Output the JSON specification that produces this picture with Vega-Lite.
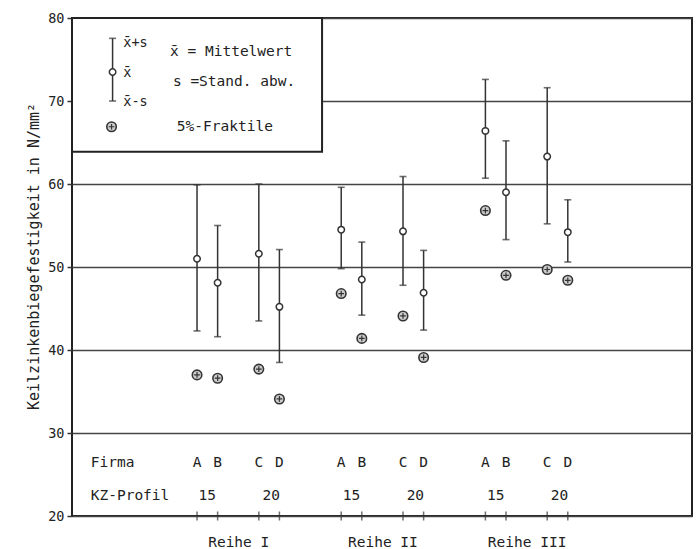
{
  "$schema": "https://vega.github.io/schema/vega-lite/v6.json",
  "width": 620,
  "height": 498,
  "autosize": {"type": "none"},
  "padding": {"left": 72, "top": 18, "right": 4, "bottom": 33},
  "background": "#ffffff",
  "config": {
    "font": "DejaVu Sans Mono",
    "view": {"stroke": "#222222", "strokeWidth": 2},
    "text": {"font": "DejaVu Sans Mono", "fontSize": 14.5, "color": "#222222", "baseline": "middle"}
  },
  "datasets": {
    "firms": [
      {"reihe": "I", "firma": "A", "pos": 0, "upper": 59.9, "mean": 51.0, "lower": 42.3, "fraktile": 37.0},
      {"reihe": "I", "firma": "B", "pos": 1, "upper": 55.0, "mean": 48.1, "lower": 41.6, "fraktile": 36.6},
      {"reihe": "I", "firma": "C", "pos": 3, "upper": 60.0, "mean": 51.6, "lower": 43.5, "fraktile": 37.7},
      {"reihe": "I", "firma": "D", "pos": 4, "upper": 52.1, "mean": 45.2, "lower": 38.5, "fraktile": 34.1},
      {"reihe": "II", "firma": "A", "pos": 7, "upper": 59.6, "mean": 54.5, "lower": 49.8, "fraktile": 46.8},
      {"reihe": "II", "firma": "B", "pos": 8, "upper": 53.0, "mean": 48.5, "lower": 44.2, "fraktile": 41.4},
      {"reihe": "II", "firma": "C", "pos": 10, "upper": 60.9, "mean": 54.3, "lower": 47.8, "fraktile": 44.1},
      {"reihe": "II", "firma": "D", "pos": 11, "upper": 52.0, "mean": 46.9, "lower": 42.4, "fraktile": 39.1},
      {"reihe": "III", "firma": "A", "pos": 14, "upper": 72.6, "mean": 66.4, "lower": 60.7, "fraktile": 56.8},
      {"reihe": "III", "firma": "B", "pos": 15, "upper": 65.2, "mean": 59.0, "lower": 53.3, "fraktile": 49.0},
      {"reihe": "III", "firma": "C", "pos": 17, "upper": 71.6, "mean": 63.3, "lower": 55.2, "fraktile": 49.7},
      {"reihe": "III", "firma": "D", "pos": 18, "upper": 58.1, "mean": 54.2, "lower": 50.6, "fraktile": 48.4}
    ],
    "profile": [
      {"reihe": "I", "profil": "15", "pos": 0.5},
      {"reihe": "I", "profil": "20", "pos": 3.6},
      {"reihe": "II", "profil": "15", "pos": 7.5},
      {"reihe": "II", "profil": "20", "pos": 10.6},
      {"reihe": "III", "profil": "15", "pos": 14.5},
      {"reihe": "III", "profil": "20", "pos": 17.6}
    ],
    "one": [{}]
  },
  "layer": [
    {
      "data": {"name": "firms"},
      "mark": {"type": "rule", "color": "#333333", "strokeWidth": 1.5},
      "encoding": {
        "x": {
          "field": "pos", "type": "quantitative",
          "scale": {"domain": [-6.07, 24.03], "nice": false, "zero": false},
          "axis": {
            "title": null, "values": [2, 9, 16],
            "labelExpr": "datum.value == 2 ? 'Reihe I' : datum.value == 9 ? 'Reihe II' : 'Reihe III'",
            "tickSize": 0, "domain": false, "grid": false,
            "labelPadding": 26, "labelBaseline": "middle", "labelFontSize": 14.5,
            "labelColor": "#222222", "labelFont": "DejaVu Sans Mono"
          }
        },
        "y": {
          "field": "lower", "type": "quantitative",
          "scale": {"domain": [20, 80], "nice": false, "zero": false},
          "axis": {
            "title": "Keilzinkenbiegefestigkeit in N/mm²",
            "values": [20, 30, 40, 50, 60, 70, 80],
            "domain": false, "grid": true, "gridColor": "#444444", "gridWidth": 1.3, "gridOpacity": 1,
            "tickSize": 5, "tickColor": "#333333", "tickWidth": 1.5,
            "labelPadding": 3, "labelFontSize": 13.5, "labelColor": "#222222", "labelFont": "DejaVu Sans Mono",
            "titleFont": "DejaVu Sans Mono", "titleFontSize": 15, "titleFontWeight": "normal", "titleColor": "#222222",
            "titleX": -39, "titleY": 238, "titleAngle": -90, "titleAlign": "center", "titleBaseline": "middle"
          }
        },
        "y2": {"field": "upper"}
      }
    },
    {
      "data": {"name": "one"},
      "mark": {"type": "rect", "fill": "#ffffff", "stroke": "#222222", "strokeWidth": 2},
      "encoding": {
        "x": {"datum": -6.07, "type": "quantitative"},
        "x2": {"datum": 6.07},
        "y": {"datum": 80, "type": "quantitative"},
        "y2": {"datum": 63.9}
      }
    },
    {
      "data": {"name": "firms"},
      "mark": {"type": "tick", "orient": "horizontal", "color": "#333333", "size": 7, "thickness": 1.6},
      "encoding": {
        "x": {"field": "pos", "type": "quantitative"},
        "y": {"field": "upper", "type": "quantitative"}
      }
    },
    {
      "data": {"name": "firms"},
      "mark": {"type": "tick", "orient": "horizontal", "color": "#333333", "size": 7, "thickness": 1.6},
      "encoding": {
        "x": {"field": "pos", "type": "quantitative"},
        "y": {"field": "lower", "type": "quantitative"}
      }
    },
    {
      "data": {"name": "firms"},
      "mark": {"type": "point", "shape": "circle", "filled": true, "fill": "#ffffff", "stroke": "#333333", "strokeWidth": 1.5, "size": 42, "opacity": 1},
      "encoding": {
        "x": {"field": "pos", "type": "quantitative"},
        "y": {"field": "mean", "type": "quantitative"}
      }
    },
    {
      "data": {"name": "firms"},
      "mark": {"type": "point", "shape": "circle", "filled": true, "fill": "#cccccc", "stroke": "#333333", "strokeWidth": 1.6, "size": 90, "opacity": 1},
      "encoding": {
        "x": {"field": "pos", "type": "quantitative"},
        "y": {"field": "fraktile", "type": "quantitative"}
      }
    },
    {
      "data": {"name": "firms"},
      "mark": {"type": "point", "shape": "M-0.6,0H0.6M0,-0.6V0.6", "filled": false, "stroke": "#333333", "strokeWidth": 1.2, "size": 90, "opacity": 1},
      "encoding": {
        "x": {"field": "pos", "type": "quantitative"},
        "y": {"field": "fraktile", "type": "quantitative"}
      }
    },
    {
      "data": {"name": "firms"},
      "mark": {"type": "tick", "orient": "vertical", "color": "#333333", "size": 9, "thickness": 1.5},
      "encoding": {
        "x": {"field": "pos", "type": "quantitative"},
        "y": {"datum": 20, "type": "quantitative"}
      }
    },
    {
      "data": {"name": "firms"},
      "mark": {"type": "text", "align": "center"},
      "encoding": {
        "x": {"field": "pos", "type": "quantitative"},
        "y": {"datum": 26.4, "type": "quantitative"},
        "text": {"field": "firma"}
      }
    },
    {
      "data": {"name": "profile"},
      "mark": {"type": "text", "align": "center"},
      "encoding": {
        "x": {"field": "pos", "type": "quantitative"},
        "y": {"datum": 22.4, "type": "quantitative"},
        "text": {"field": "profil"}
      }
    },
    {
      "data": {"name": "one"},
      "mark": {"type": "text", "align": "left", "text": "Firma"},
      "encoding": {"x": {"datum": -5.16, "type": "quantitative"}, "y": {"datum": 26.4, "type": "quantitative"}}
    },
    {
      "data": {"name": "one"},
      "mark": {"type": "text", "align": "left", "text": "KZ-Profil"},
      "encoding": {"x": {"datum": -5.16, "type": "quantitative"}, "y": {"datum": 22.4, "type": "quantitative"}}
    },
    {
      "data": {"name": "one"},
      "mark": {"type": "rule", "color": "#333333", "strokeWidth": 1.5},
      "encoding": {
        "x": {"datum": -4.1, "type": "quantitative"},
        "y": {"datum": 70.0, "type": "quantitative"},
        "y2": {"datum": 77.55}
      }
    },
    {
      "data": {"name": "one"},
      "mark": {"type": "tick", "orient": "horizontal", "color": "#333333", "size": 7, "thickness": 1.6},
      "encoding": {"x": {"datum": -4.1, "type": "quantitative"}, "y": {"datum": 77.55, "type": "quantitative"}}
    },
    {
      "data": {"name": "one"},
      "mark": {"type": "tick", "orient": "horizontal", "color": "#333333", "size": 7, "thickness": 1.6},
      "encoding": {"x": {"datum": -4.1, "type": "quantitative"}, "y": {"datum": 70.0, "type": "quantitative"}}
    },
    {
      "data": {"name": "one"},
      "mark": {"type": "point", "shape": "circle", "filled": true, "fill": "#ffffff", "stroke": "#333333", "strokeWidth": 1.5, "size": 42, "opacity": 1},
      "encoding": {"x": {"datum": -4.1, "type": "quantitative"}, "y": {"datum": 73.5, "type": "quantitative"}}
    },
    {
      "data": {"name": "one"},
      "mark": {"type": "point", "shape": "circle", "filled": true, "fill": "#cccccc", "stroke": "#333333", "strokeWidth": 1.6, "size": 90, "opacity": 1},
      "encoding": {"x": {"datum": -4.15, "type": "quantitative"}, "y": {"datum": 66.9, "type": "quantitative"}}
    },
    {
      "data": {"name": "one"},
      "mark": {"type": "point", "shape": "M-0.6,0H0.6M0,-0.6V0.6", "filled": false, "stroke": "#333333", "strokeWidth": 1.2, "size": 90, "opacity": 1},
      "encoding": {"x": {"datum": -4.15, "type": "quantitative"}, "y": {"datum": 66.9, "type": "quantitative"}}
    },
    {
      "data": {"name": "one"},
      "mark": {"type": "text", "align": "left", "text": "x̄+s", "fontSize": 13.5},
      "encoding": {"x": {"datum": -3.58, "type": "quantitative"}, "y": {"datum": 77.0, "type": "quantitative"}}
    },
    {
      "data": {"name": "one"},
      "mark": {"type": "text", "align": "left", "text": "x̄", "fontSize": 13.5},
      "encoding": {"x": {"datum": -3.58, "type": "quantitative"}, "y": {"datum": 73.4, "type": "quantitative"}}
    },
    {
      "data": {"name": "one"},
      "mark": {"type": "text", "align": "left", "text": "x̄-s", "fontSize": 13.5},
      "encoding": {"x": {"datum": -3.58, "type": "quantitative"}, "y": {"datum": 69.9, "type": "quantitative"}}
    },
    {
      "data": {"name": "one"},
      "mark": {"type": "text", "align": "left", "text": "x̄ = Mittelwert"},
      "encoding": {"x": {"datum": -1.31, "type": "quantitative"}, "y": {"datum": 75.9, "type": "quantitative"}}
    },
    {
      "data": {"name": "one"},
      "mark": {"type": "text", "align": "left", "text": "s =Stand. abw."},
      "encoding": {"x": {"datum": -1.17, "type": "quantitative"}, "y": {"datum": 72.3, "type": "quantitative"}}
    },
    {
      "data": {"name": "one"},
      "mark": {"type": "text", "align": "left", "text": "5%-Fraktile"},
      "encoding": {"x": {"datum": -0.98, "type": "quantitative"}, "y": {"datum": 66.9, "type": "quantitative"}}
    }
  ]
}
